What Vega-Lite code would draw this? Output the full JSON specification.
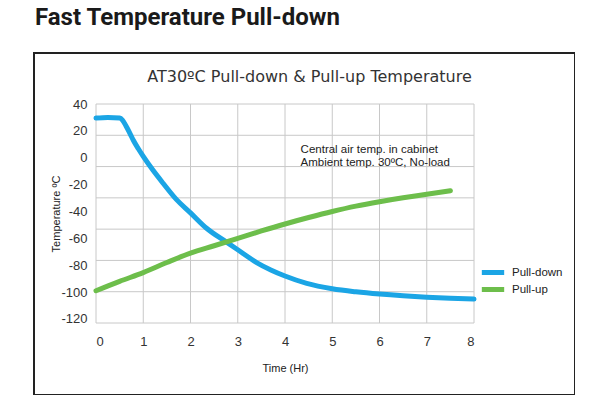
{
  "$schema": "https://vega.github.io/schema/vega-lite/v6.json",
  "autosize": "none",
  "padding": {"left": 34, "top": 53, "right": 0, "bottom": 0},
  "width": 541,
  "height": 342,
  "background": "white",
  "title": {
    "text": "Fast Temperature Pull-down",
    "anchor": "start",
    "frame": "group",
    "font": "Roboto, Liberation Sans, sans-serif",
    "fontSize": 24,
    "fontWeight": "bold",
    "color": "#1a1a1a",
    "offset": 23,
    "dx": 1
  },
  "datasets": {
    "curves": [
      {"t": 0, "v": 29.5, "series": "Pull-down"},
      {"t": 0.25, "v": 30, "series": "Pull-down"},
      {"t": 0.5, "v": 29.5, "series": "Pull-down"},
      {"t": 0.56, "v": 28, "series": "Pull-down"},
      {"t": 0.63, "v": 24, "series": "Pull-down"},
      {"t": 0.72, "v": 18, "series": "Pull-down"},
      {"t": 0.79, "v": 13, "series": "Pull-down"},
      {"t": 0.9, "v": 6.5, "series": "Pull-down"},
      {"t": 1.0, "v": 1, "series": "Pull-down"},
      {"t": 1.2, "v": -9, "series": "Pull-down"},
      {"t": 1.42, "v": -19, "series": "Pull-down"},
      {"t": 1.7, "v": -31, "series": "Pull-down"},
      {"t": 2.0, "v": -41, "series": "Pull-down"},
      {"t": 2.34, "v": -52.5, "series": "Pull-down"},
      {"t": 2.77, "v": -63, "series": "Pull-down"},
      {"t": 3.0, "v": -68.5, "series": "Pull-down"},
      {"t": 3.4, "v": -78, "series": "Pull-down"},
      {"t": 3.7, "v": -83.5, "series": "Pull-down"},
      {"t": 4.0, "v": -88, "series": "Pull-down"},
      {"t": 4.46, "v": -93.5, "series": "Pull-down"},
      {"t": 5.0, "v": -97.5, "series": "Pull-down"},
      {"t": 5.5, "v": -99.8, "series": "Pull-down"},
      {"t": 6.0, "v": -101.5, "series": "Pull-down"},
      {"t": 6.5, "v": -102.8, "series": "Pull-down"},
      {"t": 7.0, "v": -103.8, "series": "Pull-down"},
      {"t": 7.5, "v": -104.6, "series": "Pull-down"},
      {"t": 8.0, "v": -105.2, "series": "Pull-down"},
      {"t": 0, "v": -99, "series": "Pull-up"},
      {"t": 0.5, "v": -92, "series": "Pull-up"},
      {"t": 1, "v": -85.5, "series": "Pull-up"},
      {"t": 1.5, "v": -78, "series": "Pull-up"},
      {"t": 2, "v": -71, "series": "Pull-up"},
      {"t": 2.5, "v": -65.5, "series": "Pull-up"},
      {"t": 3, "v": -60, "series": "Pull-up"},
      {"t": 3.5, "v": -54.5, "series": "Pull-up"},
      {"t": 4, "v": -49.3, "series": "Pull-up"},
      {"t": 4.5, "v": -44.5, "series": "Pull-up"},
      {"t": 5, "v": -40, "series": "Pull-up"},
      {"t": 5.5, "v": -36, "series": "Pull-up"},
      {"t": 6, "v": -32.7, "series": "Pull-up"},
      {"t": 6.5, "v": -29.8, "series": "Pull-up"},
      {"t": 7, "v": -27.2, "series": "Pull-up"},
      {"t": 7.5, "v": -24.5, "series": "Pull-up"}
    ],
    "vgrid": [{"t": 0}, {"t": 1}, {"t": 2}, {"t": 3}, {"t": 4}, {"t": 5}, {"t": 6}, {"t": 7}, {"t": 8}],
    "hgrid": [{"v": 40}, {"v": 16.714}, {"v": -6.571}, {"v": -29.857}, {"v": -53.143}, {"v": -76.429}, {"v": -99.714}, {"v": -123}]
  },
  "resolve": {"axis": {"x": "independent"}},
  "layer": [
    {
      "data": {"name": "vgrid"},
      "mark": {"type": "rule", "stroke": "#c8c8c8", "strokeWidth": 1},
      "encoding": {
        "x": {"field": "t", "type": "quantitative", "axis": null},
        "y": {"datum": -123, "type": "quantitative"},
        "y2": {"datum": 40}
      }
    },
    {
      "data": {"name": "hgrid"},
      "mark": {"type": "rule", "stroke": "#c8c8c8", "strokeWidth": 1},
      "encoding": {
        "y": {"field": "v", "type": "quantitative"},
        "x": {"datum": 0, "type": "quantitative", "axis": null},
        "x2": {"datum": 8}
      }
    },
    {
      "data": {"name": "curves"},
      "mark": {"type": "line", "strokeWidth": 5, "interpolate": "monotone", "strokeCap": "round"},
      "encoding": {
        "x": {
          "field": "t",
          "type": "quantitative",
          "scale": {"domain": [0, 8], "range": [62, 440], "nice": false, "zero": false},
          "axis": {"orient": "bottom", "offset": -72, "values": [0, 1, 2, 3, 4, 5, 6, 7, 8], "title": "Time (Hr)", "labelPadding": 12, "titlePadding": 14}
        },
        "y": {
          "field": "v",
          "type": "quantitative",
          "scale": {"domain": [-123, 40], "range": [270, 51], "nice": false, "zero": false},
          "axis": {"orient": "left", "offset": -62, "values": [40, 20, 0, -20, -40, -60, -80, -100, -120], "labelExpr": "toString(datum.value)", "title": "Temperature ºC", "labelPadding": 9, "titleX": -40, "titleBaseline": "middle"}
        },
        "color": {
          "field": "series",
          "type": "nominal",
          "scale": {"domain": ["Pull-down", "Pull-up"], "range": ["#1BA5E5", "#6DBE4B"]},
          "legend": {
            "orient": "none",
            "legendX": 445,
            "legendY": 212,
            "title": null,
            "symbolType": "stroke",
            "symbolStrokeWidth": 5,
            "symbolSize": 500,
            "clipHeight": 15,
            "rowPadding": 2,
            "labelFont": "Liberation Sans, Arial, sans-serif",
            "labelFontSize": 11.5,
            "labelColor": "#222",
            "labelOffset": 5
          }
        }
      }
    },
    {
      "data": {"values": [{}]},
      "mark": {"type": "text", "align": "left", "baseline": "middle", "fontSize": 11.5, "lineHeight": 13.4, "color": "#222", "font": "Liberation Sans, Arial, sans-serif"},
      "encoding": {
        "x": {
          "datum": 4.33,
          "type": "quantitative",
          "axis": {"orient": "top", "labels": false, "ticks": false, "domain": false, "title": "AT30ºC Pull-down & Pull-up Temperature", "titleFont": "DejaVu Sans, sans-serif", "titleFontSize": 16, "titleColor": "#333", "titleX": 275, "titleY": 28.5, "titleBaseline": "alphabetic", "titleAnchor": "middle", "titleAlign": "center"}
        },
        "y": {"datum": 5.8, "type": "quantitative"},
        "text": {"value": ["Central air temp. in cabinet", "Ambient temp. 30ºC, No-load"]}
      }
    }
  ],
  "config": {
    "view": {"stroke": "#222", "strokeWidth": 2},
    "axis": {
      "grid": false,
      "ticks": false,
      "domain": false,
      "labelFont": "Liberation Sans, Arial, sans-serif",
      "labelFontSize": 13,
      "labelColor": "#333",
      "titleFont": "Liberation Sans, Arial, sans-serif",
      "titleFontSize": 11,
      "titleFontWeight": "normal",
      "titleColor": "#222"
    }
  }
}
